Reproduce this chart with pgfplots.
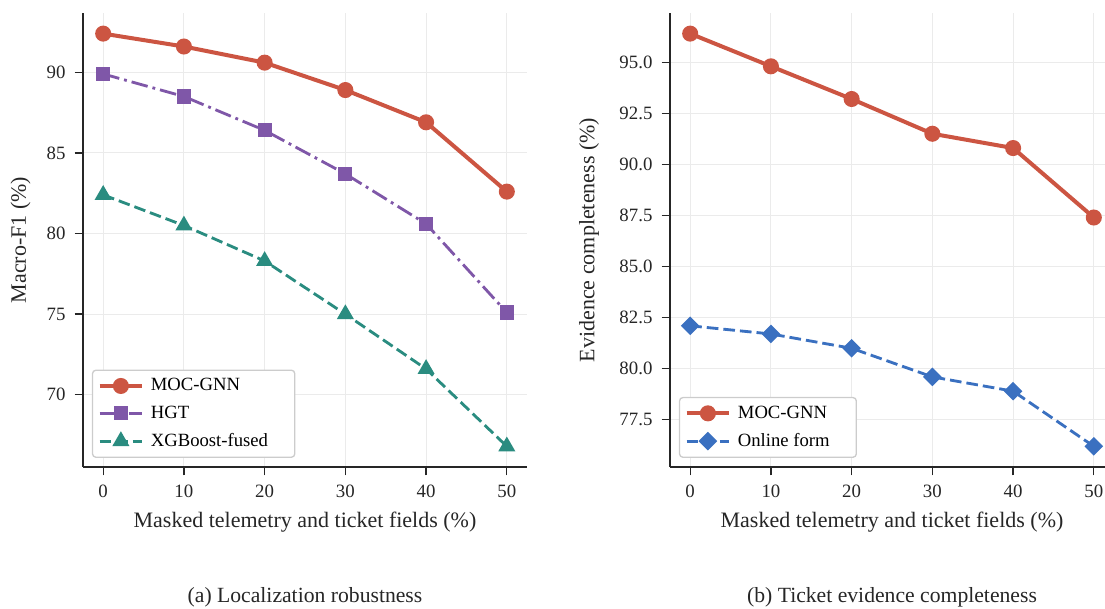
\documentclass[border=0pt]{standalone}
\usepackage{pgfplots}
\pgfplotsset{compat=1.18}
\usepackage{fontspec}
\setmainfont{Liberation Serif}

\definecolor{cmoc}{RGB}{204,85,66}
\definecolor{chgt}{RGB}{127,87,168}
\definecolor{cxgb}{RGB}{42,140,128}
\definecolor{conl}{RGB}{58,112,192}

\pgfplotsset{
  panel/.style={
    scale only axis,
    width=266.4pt, height=272.4pt,
    anchor=south west,
    axis lines=left,
    axis line style={-, line width=0.9pt, black!85},
    tick align=outside,
    tick style={line width=0.8pt, black!85},
    major tick length=5pt,
    grid=major,
    grid style={line width=0.6pt, black!8},
    xmin=-2.5, xmax=52.5,
    xtick={0,10,20,30,40,50},
    /pgf/number format/assume math mode=true,
    tick label style={font=\fontsize{11.3}{13}\selectfont, black!85},
    xticklabel style={yshift=-2.5pt},
    yticklabel style={xshift=-2pt},
    xlabel={Masked telemetry and ticket fields (\%)},
    every axis x label/.style={at={(axis description cs:0.5,0)}, anchor=center, yshift=-33pt,
      font=\fontsize{13.2}{16}\selectfont, black!85},
    legend cell align=left,
    legend image code/.code={%
      \draw[mark repeat=2, mark phase=2] plot coordinates {(0cm,0cm) (0.45cm,0cm) (0.9cm,0cm)};},
    legend style={font=\fontsize{11.2}{13}\selectfont, draw=black!20, rounded corners=2pt,
      fill=white, line width=0.8pt, row sep=3.5pt, inner sep=3pt,
      nodes={inner xsep=4pt}},
  },
}

\begin{document}
\begin{tikzpicture}

\begin{axis}[panel,
  at={(49.8pt,85.2pt)},
  ymin=65.52, ymax=93.68,
  ytick={70,75,80,85,90},
  ylabel={Macro-F1 (\%)},
  every axis y label/.style={at={(axis description cs:0,0.5)}, xshift=-37.5pt, rotate=90, anchor=center,
    font=\fontsize{13.2}{16}\selectfont, black!85},
  legend style={at={(axis description cs:0.02,0.02)}, anchor=south west},
]
\addplot[cmoc, line width=2.4pt, mark=*, mark size=3.6pt, mark options={solid}]
  coordinates {(0,92.4) (10,91.6) (20,90.6) (30,88.9) (40,86.9) (50,82.6)};
\addlegendentry{MOC-GNN}
\addplot[chgt, line width=1.7pt, dash pattern=on 10pt off 3pt on 1.7pt off 3pt, mark=square*, mark size=3.4pt, mark options={solid}]
  coordinates {(0,89.9) (10,88.5) (20,86.4) (30,83.7) (40,80.6) (50,75.1)};
\addlegendentry{HGT}
\addplot[cxgb, line width=1.7pt, dash pattern=on 7pt off 3pt, mark=triangle*, mark size=4.2pt, mark options={solid}]
  coordinates {(0,82.4) (10,80.5) (20,78.3) (30,75.0) (40,71.6) (50,66.8)};
\addlegendentry{XGBoost-fused\hspace*{9pt}}
\end{axis}

\begin{axis}[panel,
  at={(402pt,85.2pt)},
  ymin=75.19, ymax=97.41,
  ytick={77.5,80,82.5,85,87.5,90,92.5,95},
  yticklabel style={/pgf/number format/.cd, fixed, fixed zerofill, precision=1},
  ylabel={Evidence completeness (\%)},
  every axis y label/.style={at={(axis description cs:0,0.5)}, xshift=-48.5pt, rotate=90, anchor=center,
    font=\fontsize{13.2}{16}\selectfont, black!85},
  legend style={at={(axis description cs:0.02,0.02)}, anchor=south west},
]
\addplot[cmoc, line width=2.4pt, mark=*, mark size=3.6pt, mark options={solid}]
  coordinates {(0,96.4) (10,94.8) (20,93.2) (30,91.5) (40,90.8) (50,87.4)};
\addlegendentry{MOC-GNN}
\addplot[conl, line width=1.7pt, dash pattern=on 7pt off 3pt, mark=square*, mark size=3.1pt, mark options={solid, rotate=45}]
  coordinates {(0,82.1) (10,81.7) (20,81.0) (30,79.6) (40,78.9) (50,76.2)};
\addlegendentry{Online form\hspace*{9pt}}
\end{axis}

\node[anchor=base, font=\fontsize{13}{15}\selectfont, black!85] at (183pt,3.6pt) {(a) Localization robustness};
\node[anchor=base, font=\fontsize{13}{15}\selectfont, black!85] at (535.2pt,3.6pt) {(b) Ticket evidence completeness};

\pgfresetboundingbox
\useasboundingbox (0,0) rectangle (663pt,365.4pt);
\end{tikzpicture}
\end{document}
